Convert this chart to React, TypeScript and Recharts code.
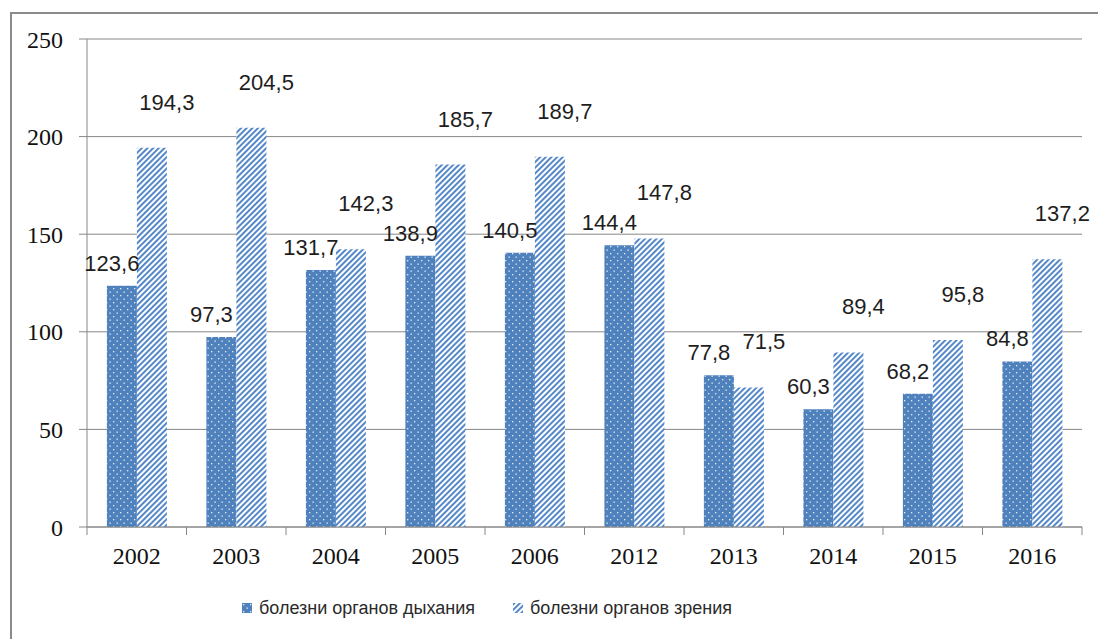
import { Bar, BarChart, CartesianGrid, LabelList, Legend, XAxis, YAxis } from "recharts";

const years = ["2002", "2003", "2004", "2005", "2006", "2012", "2013", "2014", "2015", "2016"];
const breathing = [123.6, 97.3, 131.7, 138.9, 140.5, 144.4, 77.8, 60.3, 68.2, 84.8];
const vision = [194.3, 204.5, 142.3, 185.7, 189.7, 147.8, 71.5, 89.4, 95.8, 137.2];
const yTicks = [0, 50, 100, 150, 200, 250];
const seriesNames = ["болезни органов дыхания", "болезни органов зрения"];

const data = years.map((year, i) => ({ year, breathing: breathing[i], vision: vision[i] }));

const W = 1098;
const H = 639;
const LEFT = 87;
const RIGHT = 16;
const BAND = (W - LEFT - RIGHT) / years.length;
const BLUE = "#4f81bd";
const AXIS = "#878787";

const fmt = (v: number) => v.toFixed(1).replace(".", ",");

const makeLabel = (dx: number, lift: number) => (props: any) => {
  const { x, y, width, value } = props;
  return (
    <text
      x={Number(x) + Number(width) / 2 + dx}
      y={Number(y) - lift}
      textAnchor="middle"
      fontFamily="'Liberation Sans', Arial, sans-serif"
      fontSize={22}
      fill="#1e1e1e"
    >
      {fmt(Number(value))}
    </text>
  );
};

const XTick = (props: any) => {
  const { x, y, payload, index, visibleTicksCount } = props;
  const half = BAND / 2;
  return (
    <g>
      <line x1={x - half} x2={x - half} y1={y} y2={y + 8} stroke={AXIS} />
      {index === visibleTicksCount - 1 && <line x1={x + half} x2={x + half} y1={y} y2={y + 8} stroke={AXIS} />}
      <text
        x={x}
        y={y + 37}
        textAnchor="middle"
        fontFamily="'Liberation Serif', 'Times New Roman', serif"
        fontSize={24}
        fill="#111"
      >
        {payload.value}
      </text>
    </g>
  );
};

const LegendContent = () => (
  <div style={{ display: "flex", justifyContent: "flex-start", height: 30, alignItems: "center", paddingLeft: 242 }}>
    {seriesNames.map((name, i) => (
      <div key={name} style={{ display: "flex", alignItems: "center", marginRight: i === 0 ? 38 : 0 }}>
        <svg width={10} height={10} style={{ marginRight: 7 }}>
          <rect x={0} y={0} width={10} height={10} fill={i === 0 ? "url(#dots)" : "url(#hatch)"} />
        </svg>
        <span style={{ fontFamily: "'Liberation Sans', Arial, sans-serif", fontSize: 18, color: "#2a2a2a" }}>{name}</span>
      </div>
    ))}
  </div>
);

export default function App() {
  return (
    <div style={{ position: "absolute", left: 0, top: 0, width: W, height: H, overflow: "hidden", background: "#fff" }}>
      <div
        style={{
          position: "absolute",
          left: 10,
          top: 12,
          width: W + 20,
          height: H + 20,
          borderLeft: "2px solid #8a8a8a",
          borderTop: "2px solid #8a8a8a",
          boxSizing: "border-box"
        }}
      />
      <div style={{ position: "absolute", left: 0, top: 0 }}>
        <BarChart
          width={W}
          height={H}
          data={data}
          margin={{ top: 39, right: RIGHT, bottom: 32, left: 0 }}
          barCategoryGap="20%"
          barGap={0}
        >
          <defs>
            <pattern id="dots" width={7} height={7} patternUnits="userSpaceOnUse">
              <rect width={7} height={7} fill={BLUE} />
              <rect x={1} y={1} width={1.3} height={1.3} fill="#fff" opacity={0.85} />
              <rect x={4.5} y={4.5} width={1.3} height={1.3} fill="#fff" opacity={0.85} />
            </pattern>
            <pattern id="hatch" width={4} height={4} patternUnits="userSpaceOnUse" patternTransform="rotate(45)">
              <rect width={4} height={4} fill="#fff" />
              <rect x={0} y={0} width={2} height={4} fill="#5588c9" />
            </pattern>
          </defs>
          <CartesianGrid vertical={false} stroke={AXIS} strokeWidth={1} />
          <XAxis
            dataKey="year"
            height={50}
            axisLine={{ stroke: AXIS }}
            tickLine={false}
            tickSize={0}
            tickMargin={0}
            interval={0}
            tick={<XTick />}
          />
          <YAxis
            width={LEFT}
            domain={[0, 250]}
            ticks={yTicks}
            axisLine={{ stroke: AXIS }}
            tickLine={{ stroke: AXIS }}
            tickSize={8}
            tickMargin={16}
            tick={{ fontFamily: "'Liberation Serif', 'Times New Roman', serif", fontSize: 24, fill: "#111" }}
          />
          <Legend wrapperStyle={{ top: 593, left: 0, width: W }} height={30} content={<LegendContent />} />
          <Bar dataKey="breathing" name={seriesNames[0]} fill="url(#dots)" isAnimationActive={false}>
            <LabelList dataKey="breathing" content={makeLabel(-10, 15)} />
          </Bar>
          <Bar dataKey="vision" name={seriesNames[1]} fill="url(#hatch)" isAnimationActive={false}>
            <LabelList dataKey="vision" content={makeLabel(15, 38)} />
          </Bar>
        </BarChart>
      </div>
    </div>
  );
}
